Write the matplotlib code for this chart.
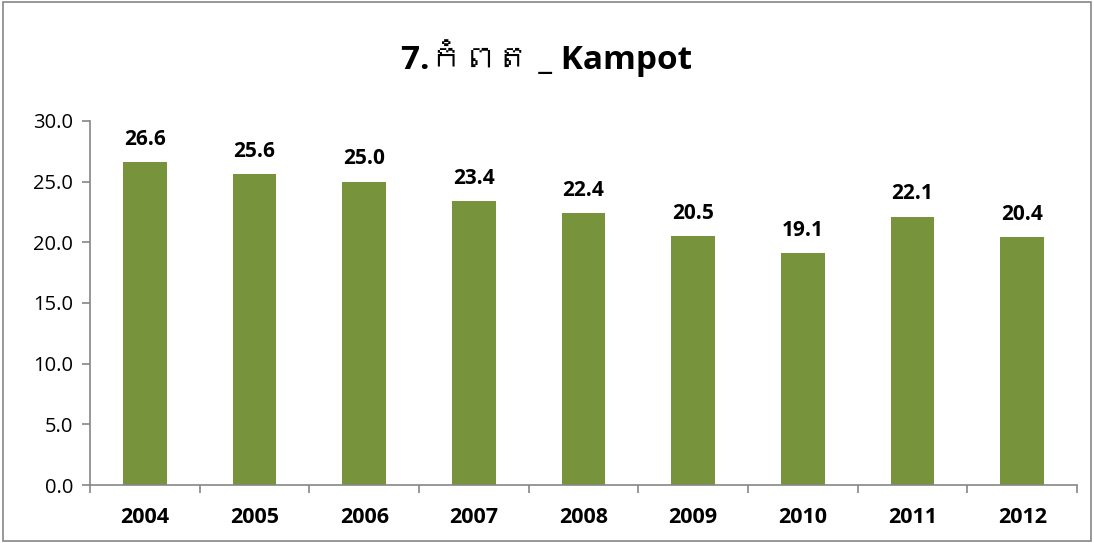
import numpy as np
import matplotlib.pyplot as plt
from matplotlib import font_manager
from matplotlib.ft2font import FT2Font
from matplotlib.patches import Rectangle

years = ["2004", "2005", "2006", "2007", "2008", "2009", "2010", "2011", "2012"]
values = [26.6, 25.6, 25.0, 23.4, 22.4, 20.5, 19.1, 22.1, 20.4]
title = "7.កំពត _ Kampot"


# look for any installed font that has Khmer glyphs
def find_khmer_family():
    for f in font_manager.fontManager.ttflist:
        try:
            cmap = FT2Font(f.fname).get_charmap()
        except Exception:
            continue
        if 0x1780 in cmap and 0x178F in cmap:
            return f.name
    return None


khmer = find_khmer_family()
families = ["Open Sans", "DejaVu Sans"]
if khmer:
    families.insert(1, khmer)
plt.rcParams["font.family"] = families

fig = plt.figure(figsize=(10.94, 5.43), dpi=100)
ax = fig.add_axes([0.0823, 0.1068, 0.9022, 0.6704])

x = np.arange(len(years))
ax.bar(x, values, width=0.4, color="#77933C", zorder=2)

for xi, v in zip(x, values):
    ax.annotate(f"{v:.1f}", (xi, v), xytext=(0, 9), textcoords="offset points",
                ha="center", va="bottom", fontsize=15, fontweight="bold")

ax.set_xlim(-0.5, len(years) - 0.5)
ax.set_ylim(0, 30)
ax.set_yticks(np.arange(0, 31, 5))
ax.set_yticklabels([f"{t:.1f}" for t in np.arange(0, 31, 5)], fontsize=14.5)

ax.set_xticks(x)
ax.set_xticklabels(years, fontsize=15.5, fontweight="bold")
ax.set_xticks(np.arange(-0.5, len(years), 1), minor=True)
ax.tick_params(axis="x", which="major", length=0, pad=16)
ax.tick_params(axis="x", which="minor", length=6, color="#868686", width=1.2)
ax.tick_params(axis="y", length=6, color="#868686", width=1.2, pad=6)

for side in ["top", "right"]:
    ax.spines[side].set_visible(False)
for side in ["left", "bottom"]:
    ax.spines[side].set_color("#868686")
    ax.spines[side].set_linewidth(1.2)

fig.text(0.5, 0.893, title, ha="center", va="center", fontsize=24, fontweight="bold")

fig.patches.append(Rectangle((0.003, 0.004), 0.994, 0.992, transform=fig.transFigure,
                             fill=False, edgecolor="#868686", linewidth=1.2))

fig.savefig("out.png", dpi=100)
